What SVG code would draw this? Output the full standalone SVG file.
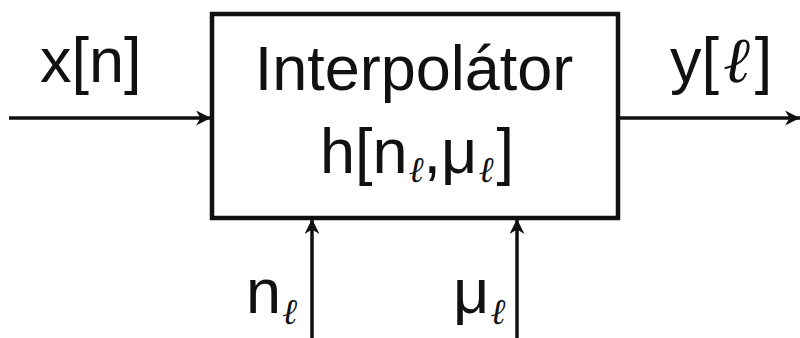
<svg xmlns="http://www.w3.org/2000/svg" width="800" height="338" viewBox="0 0 800 338">
<style>
.t{font-family:"Liberation Sans",Arial,sans-serif;font-size:63px;fill:#111}
.s{font-family:"DejaVu Serif",serif;font-style:italic;font-size:36px;fill:#111}
.b{font-family:"DejaVu Serif",serif;font-style:italic;font-size:64px;fill:#111}
.ln{stroke:#111;stroke-width:3.5;fill:none}
</style>
<defs>
<marker id="ah" viewBox="0 0 10 10" refX="10" refY="5" markerWidth="22" markerHeight="15" markerUnits="userSpaceOnUse" orient="auto">
<path d="M0,0 L10,5 L0,10 L3,5 Z" fill="#111"/>
</marker>
</defs>
<g id="node-interpolator">
<rect x="212" y="14" width="406" height="204" fill="#fff" stroke="#111" stroke-width="4.5"/>
<text class="t" x="414" y="90" text-anchor="middle">Interpolátor</text>
<text class="t" x="320" y="173">h[n<tspan class="s" dx="1" dy="9">ℓ</tspan><tspan dy="-9">,μ</tspan><tspan class="s" dx="1" dy="9">ℓ</tspan><tspan dx="3" dy="-9">]</tspan></text>
</g>
<g id="connectors">
<line class="ln" x1="9" y1="118" x2="211" y2="118" marker-end="url(#ah)"/>
<line class="ln" x1="620" y1="118" x2="800" y2="118" marker-end="url(#ah)"/>
<line class="ln" x1="312" y1="338" x2="312" y2="219" marker-end="url(#ah)"/>
<line class="ln" x1="517" y1="338" x2="517" y2="219" marker-end="url(#ah)"/>
</g>
<g id="labels">
<text class="t" x="40" y="82">x[n]</text>
<text class="t" x="670" y="82">y[<tspan class="b" dx="4">ℓ</tspan><tspan dx="5">]</tspan></text>
<text class="t" x="246" y="313">n<tspan class="s" dx="1" dy="11">ℓ</tspan></text>
<text class="t" x="453" y="313">μ<tspan class="s" dx="1" dy="11">ℓ</tspan></text>
</g>
</svg>
